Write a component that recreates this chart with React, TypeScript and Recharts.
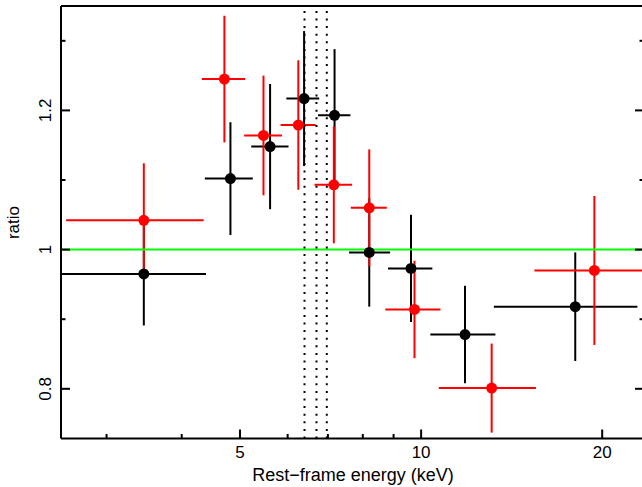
import React from 'react'
import {
  ComposedChart,
  Scatter,
  ErrorBar,
  XAxis,
  YAxis,
  ReferenceLine
} from 'recharts'

// black spectrum: energy bin centre / bin edges (keV), ratio and 1-sigma error
const blackEnergy = [3.46, 4.82, 5.61, 6.39, 7.18, 8.2, 9.62, 11.83, 18.04]
const blackLo = [2.53, 4.37, 5.22, 5.97, 6.74, 7.59, 8.81, 10.36, 13.21]
const blackHi = [4.39, 5.25, 6.02, 6.77, 7.63, 8.88, 10.44, 13.29, 22.88]
const blackRatio = [0.965, 1.102, 1.148, 1.217, 1.193, 0.996, 0.973, 0.878, 0.918]
const blackErr = [0.074, 0.081, 0.09, 0.097, 0.095, 0.078, 0.077, 0.07, 0.078]

// red spectrum
const redEnergy = [3.46, 4.71, 5.47, 6.25, 7.16, 8.2, 9.75, 13.1, 19.41]
const redLo = [2.57, 4.32, 5.08, 5.84, 6.65, 7.64, 8.72, 10.7, 15.43]
const redHi = [4.35, 5.1, 5.87, 6.68, 7.68, 8.77, 10.77, 15.52, 25]
const redRatio = [1.042, 1.245, 1.164, 1.179, 1.093, 1.06, 0.914, 0.801, 0.97]
const redErr = [0.082, 0.091, 0.086, 0.093, 0.084, 0.084, 0.07, 0.064, 0.107]

// Fe line energies (keV)
const lineEnergies = [6.4, 6.7, 6.97]

const xTicks = [3, 4, 5, 6, 7, 8, 9, 10, 20]
const xLabels = [5, 10, 20]
const yTicks = [0.8, 0.9, 1, 1.1, 1.2, 1.3]
const yLabels = [0.8, 1, 1.2]

const xDomain = [2.52, 23.47]
const yDomain = [0.7286, 1.35]

const FONT = '"Liberation Sans", Arial, Helvetica, sans-serif'
const MAJOR = 9
const MINOR = 4.5

const buildRows = (e: number[], lo: number[], hi: number[], r: number[], err: number[]) =>
  e.map((x, i) => ({
    x,
    y: r[i],
    xErr: [x - lo[i], hi[i] - x],
    yErr: [err[i], err[i]]
  }))

const blackData = buildRows(blackEnergy, blackLo, blackHi, blackRatio, blackErr)
const redData = buildRows(redEnergy, redLo, redHi, redRatio, redErr)

const BottomTick = (props: any) => {
  const { x, y, payload } = props
  const major = xLabels.includes(payload.value)
  return (
    <g>
      <line x1={x} y1={y} x2={x} y2={y - (major ? MAJOR : MINOR)} stroke="#000" strokeWidth={2} />
      {major && (
        <text x={x} y={y + 19} textAnchor="middle" fontSize={17} fontFamily={FONT} fill="#000">
          {payload.value}
        </text>
      )}
    </g>
  )
}

const TopTick = (props: any) => {
  const { x, y, payload } = props
  const major = xLabels.includes(payload.value)
  return <line x1={x} y1={y} x2={x} y2={y + (major ? MAJOR : MINOR)} stroke="#000" strokeWidth={2} />
}

const LeftTick = (props: any) => {
  const { x, y, payload } = props
  const major = yLabels.includes(payload.value)
  return (
    <g>
      <line x1={x} y1={y} x2={x + (major ? MAJOR : MINOR)} y2={y} stroke="#000" strokeWidth={2} />
      {major && (
        <text
          x={51.5}
          y={y}
          transform={`rotate(-90 51.5 ${y})`}
          textAnchor="middle"
          fontSize={17}
          fontFamily={FONT}
          fill="#000"
        >
          {payload.value}
        </text>
      )}
    </g>
  )
}

const RightTick = (props: any) => {
  const { x, y, payload } = props
  const major = yLabels.includes(payload.value)
  return <line x1={x} y1={y} x2={x - (major ? MAJOR : MINOR)} y2={y} stroke="#000" strokeWidth={2} />
}

const dot = (color: string) => (p: any) => <circle cx={p.cx} cy={p.cy} r={5.5} fill={color} />

export default function App() {
  return (
    <div
      style={{
        position: 'absolute',
        left: 0,
        top: 0,
        width: 642,
        height: 487,
        overflow: 'hidden',
        background: '#fff'
      }}
    >
      {/* plot box runs a couple of px past the right edge, as in the original crop */}
      <ComposedChart width={645} height={487} margin={{ top: 5, right: 0, bottom: 0, left: 0 }}>
        <XAxis
          dataKey="x"
          type="number"
          scale="log"
          domain={xDomain}
          allowDataOverflow
          ticks={xTicks}
          interval={0}
          height={48.5}
          tickSize={0}
          tickMargin={0}
          tickLine={false}
          tick={<BottomTick />}
          axisLine={{ stroke: '#000', strokeWidth: 2 }}
          label={() => (
            <text x={353} y={481} textAnchor="middle" fontSize={18} fontFamily={FONT} fill="#000">
              Rest−frame energy (keV)
            </text>
          )}
        />
        <XAxis
          xAxisId="top"
          orientation="top"
          type="number"
          scale="log"
          domain={xDomain}
          allowDataOverflow
          ticks={xTicks}
          interval={0}
          height={1}
          tickSize={0}
          tickMargin={0}
          tickLine={false}
          tick={<TopTick />}
          axisLine={{ stroke: '#000', strokeWidth: 2 }}
        />
        <YAxis
          dataKey="y"
          type="number"
          domain={yDomain}
          allowDataOverflow
          ticks={yTicks}
          interval={0}
          width={61}
          tickSize={0}
          tickMargin={0}
          tickLine={false}
          tick={<LeftTick />}
          axisLine={{ stroke: '#000', strokeWidth: 2 }}
          label={() => (
            <text
              x={18.5}
              y={222.5}
              transform="rotate(-90 18.5 222.5)"
              textAnchor="middle"
              fontSize={17}
              fontFamily={FONT}
              fill="#000"
            >
              ratio
            </text>
          )}
        />
        <YAxis
          yAxisId="right"
          orientation="right"
          type="number"
          domain={yDomain}
          allowDataOverflow
          ticks={yTicks}
          interval={0}
          width={1}
          tickSize={0}
          tickMargin={0}
          tickLine={false}
          tick={<RightTick />}
          axisLine={{ stroke: '#000', strokeWidth: 2 }}
        />

        <Scatter data={blackData} isAnimationActive={false} shape={dot('#000000')}>
          <ErrorBar dataKey="xErr" direction="x" width={0} stroke="#000000" strokeWidth={2} />
          <ErrorBar dataKey="yErr" direction="y" width={0} stroke="#000000" strokeWidth={2} />
        </Scatter>
        <Scatter data={redData} isAnimationActive={false} shape={dot('#ff0000')}>
          <ErrorBar dataKey="xErr" direction="x" width={0} stroke="#ff0000" strokeWidth={2} />
          <ErrorBar dataKey="yErr" direction="y" width={0} stroke="#ff0000" strokeWidth={2} />
        </Scatter>

        <ReferenceLine y={1} stroke="#00ff00" strokeWidth={2} />
        {lineEnergies.map((e) => (
          <ReferenceLine key={e} x={e} stroke="#000" strokeWidth={2} strokeDasharray="2 5.6" />
        ))}
      </ComposedChart>
    </div>
  )
}
